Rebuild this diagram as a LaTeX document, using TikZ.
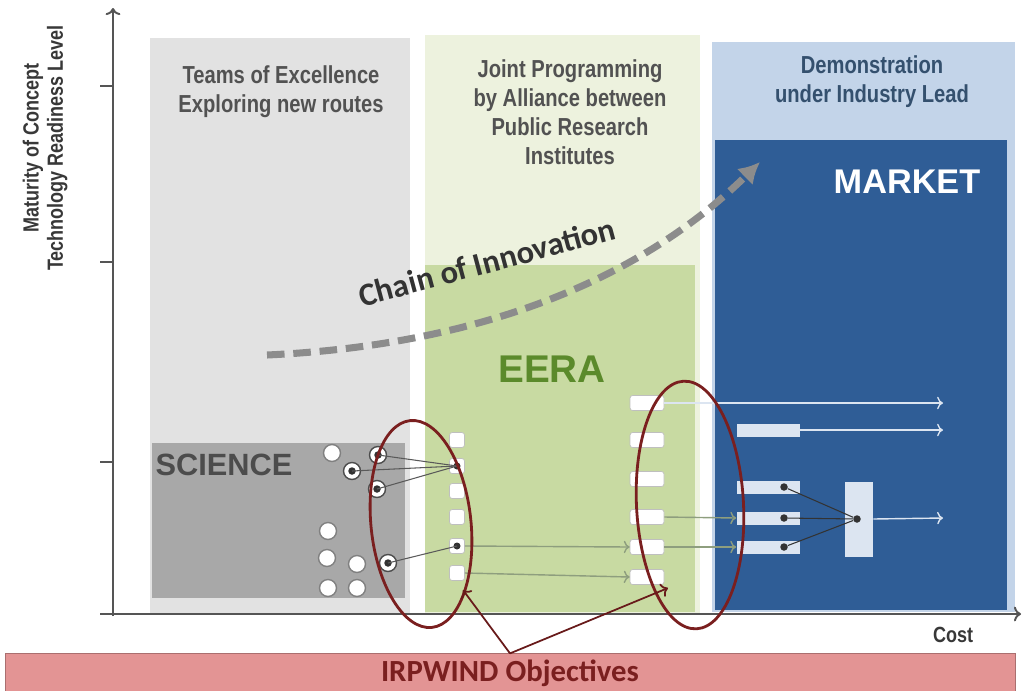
\documentclass[tikz,border=0pt]{standalone}
\usepackage{fontspec}
\setmainfont{Liberation Sans}
\newfontfamily\narrowfont[FakeStretch=0.82]{Liberation Sans}
\newfontfamily\calfont{Carlito}
\usepackage{xcolor}
\usepackage{tikz}
\usetikzlibrary{shapes,shapes.geometric,calc,arrows,arrows.meta,positioning}
\definecolor{colgray}{HTML}{E2E2E2}
\definecolor{scigray}{HTML}{A8A8A8}
\definecolor{palegreen}{HTML}{EDF2DE}
\definecolor{eeragreen}{HTML}{C8DAA2}
\definecolor{eeratext}{HTML}{5B8A2B}
\definecolor{paleblue}{HTML}{C3D4E9}
\definecolor{marketblue}{HTML}{2F5D96}
\definecolor{demotext}{HTML}{34506E}
\definecolor{ringred}{HTML}{7A1F1F}
\definecolor{objpink}{HTML}{E39494}
\definecolor{axisgray}{HTML}{555555}
\definecolor{flowgreen}{HTML}{8E9E7E}
\definecolor{barwhite}{HTML}{DCE5F1}
\tikzset{
  head/.style={font=\narrowfont\bfseries\fontsize{14}{16.4}\selectfont, text=black!68, align=center},
  axistext/.style={font=\narrowfont\bfseries\fontsize{12.5}{13.8}\selectfont, text=black!78, align=center},
  word/.style={font=\bfseries\fontsize{#1}{#1}\selectfont, inner sep=0pt},
  pebble/.style={circle, draw=black!50, fill=white, line width=0.8pt, minimum size=0.34cm, inner sep=0pt},
  seed/.style={pebble, draw=black!70, path picture={\fill[black!80] (path picture bounding box.center) circle (0.075cm);}},
  core/.style={circle, fill=black!80, minimum size=0.15cm, inner sep=0pt},
  slot/.style={rectangle, rounded corners=1.5pt, draw=black!25, fill=white, minimum width=0.3cm, minimum height=0.3cm, inner sep=0pt},
  hubslot/.style={slot, path picture={\fill[black!80] (path picture bounding box.center) circle (0.07cm);}},
  wideslot/.style={slot, minimum width=0.68cm},
  bar/.style={rectangle, fill=barwhite, minimum width=1.26cm, minimum height=0.26cm, inner sep=0pt},
  ring/.style={ellipse, draw=ringred, line width=1.6pt, inner sep=0pt},
  link/.style={draw=black!65, line width=0.6pt},
  flow/.style={->, draw=flowgreen, line width=0.8pt},
  outflow/.style={->, draw=barwhite, line width=0.8pt},
  axis/.style={->, draw=axisgray, line width=1.1pt},
  innov/.style={draw=black!45, line width=4pt, dash pattern=on 10pt off 5pt, -{Latex[length=12pt,width=13pt]}},
  objbox/.style={rectangle, fill=objpink, draw=objpink!75!black, minimum width=20.2cm, minimum height=0.72cm, font=\calfont\bfseries\fontsize{17.5}{17.5}\selectfont, text=ringred},
  objarrow/.style={->, draw=ringred!85!black, line width=1pt}
}
\begin{document}
\begin{tikzpicture}[x=0.02cm, y=-0.02cm]
  \useasboundingbox (0,0) rectangle (1023,690);
  \fill[colgray] (150,38) rectangle (410,615);
  \fill[palegreen] (425,35) rectangle (700,615);
  \fill[paleblue] (712,42) rectangle (1015,612);
  \fill[eeragreen] (425,265) rectangle (695,612);
  \fill[marketblue] (715,140) rectangle (1007,610);
  \fill[scigray] (152,443) rectangle (405,598);

  \node[head] (teams) at (281,92) {Teams of Excellence\\Exploring new routes};
  \node[head] (joint) at (570,112) {Joint Programming\\by Alliance between\\Public Research\\Institutes};
  \node[head, text=demotext] (demo) at (872,82) {Demonstration\\under Industry Lead};
  \node[word=17.5, text=black!70] (sci) at (224,465) {SCIENCE};
  \node[word=22, text=eeratext] (eera) at (552,369) {EERA};
  \node[word=19.5, text=white] (market) at (907,182) {MARKET};

  \coordinate (cstart) at (267,355);
  \coordinate (cend) at (760,162);
  \draw[innov] (cstart) .. controls (480,345) and (640,280) .. (cend);
  \node[font=\calfont\bfseries\fontsize{18.5}{18.5}\selectfont, text=black!80, rotate=15] (chainlbl) at (487,262) {Chain of Innovation};

  \coordinate (ytop) at (113,8);
  \coordinate (xend) at (1021,614);
  \draw[axis] (113,616) -- (ytop);
  \draw[axis] (100,614) -- (xend);
  \draw[axis, -] (100,86) -- (113,86);
  \draw[axis, -] (100,262) -- (113,262);
  \draw[axis, -] (100,462) -- (113,462);
  \node[axistext, rotate=90] (ylab) at (45,148) {Maturity of Concept\\Technology Readiness Level};
  \node[axistext] (cost) at (953,635) {Cost};

  \node[pebble] (p1) at (332,453) {};
  \node[seed] (p2) at (378,455) {};
  \node[seed] (p3) at (352,471) {};
  \node[seed] (p4) at (377,489) {};
  \node[pebble] (p5) at (328,531) {};
  \node[pebble] (p6) at (327,558) {};
  \node[pebble] (p7) at (357,564) {};
  \node[seed] (p8) at (388,563) {};
  \node[pebble] (p9) at (328,588) {};
  \node[pebble] (p10) at (357,588) {};

  \node[slot] (g1) at (457,440) {};
  \node[hubslot] (g2) at (457,466) {};
  \node[slot] (g3) at (457,491) {};
  \node[slot] (g4) at (457,517) {};
  \node[hubslot] (g5) at (457,546) {};
  \node[slot] (g6) at (457,573) {};

  \node[wideslot] (m1) at (647,403) {};
  \node[wideslot] (m2) at (647,440) {};
  \node[wideslot] (m3) at (647,479) {};
  \node[wideslot] (m4) at (647,517) {};
  \node[wideslot] (m5) at (647,547) {};
  \node[wideslot] (m6) at (647,577) {};

  \node[bar] (b1) at (768,430) {};
  \node[bar] (b2) at (768,487) {};
  \node[bar] (b3) at (768,518) {};
  \node[bar] (b4) at (768,547) {};
  \node[rectangle, fill=barwhite, minimum width=0.56cm, minimum height=1.5cm] (v) at (859,519) {};

  \draw[link] (p2.center) -- (g2.center);
  \draw[link] (p3.center) -- (g2.center);
  \draw[link] (p4.center) -- (g2.center);
  \draw[link] (p8.center) -- (g5.center);
  \draw[flow] (g5.east) -- (m5.west);
  \draw[flow] (g6.east) -- (m6.west);
  \draw[flow] (m4.east) -- (b3.west);
  \draw[flow] (m5.east) -- (b4.west);

  \node[core] (d2) at (784,487) {};
  \node[core] (d3) at (784,518) {};
  \node[core] (d4) at (784,547) {};
  \node[core] (vd) at (857,519) {};
  \draw[link, draw=black!80] (d2) -- (vd);
  \draw[link, draw=black!80] (d3) -- (vd);
  \draw[link, draw=black!80] (d4) -- (vd);

  \coordinate (e1) at (943,403);
  \coordinate (e2) at (943,430);
  \coordinate (e3) at (943,518);
  \draw[outflow] (m1.east) -- (e1);
  \draw[outflow] (b1.east) -- (e2);
  \draw[outflow] (v.east) -- (e3);

  \node[ring, minimum width=2cm, minimum height=4.16cm, rotate=6] (ringA) at (421,524) {};
  \node[ring, minimum width=2.14cm, minimum height=4.96cm, rotate=3] (ringB) at (690,505) {};

  \node[objbox] (irp) at (510,673) {IRPWIND Objectives};
  \coordinate (tA) at (463,590);
  \coordinate (tB) at (668,588);
  \draw[objarrow] (irp.north) -- (tA);
  \draw[objarrow] (irp.north) -- (tB);
\end{tikzpicture}
\end{document}
